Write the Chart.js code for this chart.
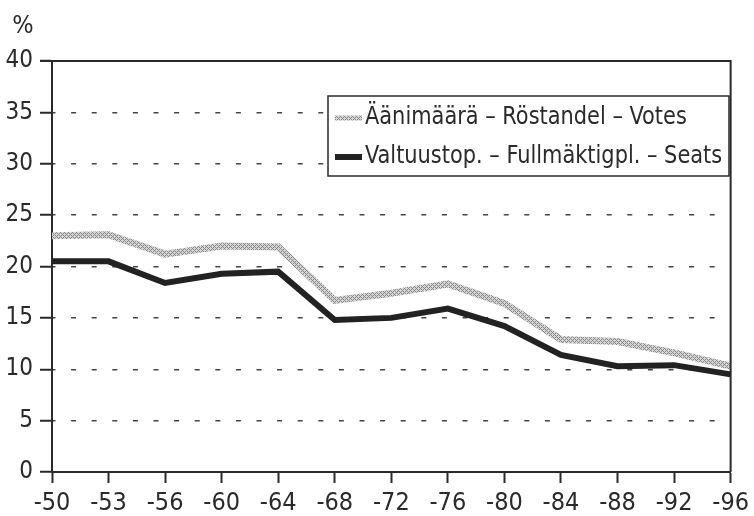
<!DOCTYPE html>
<html>
<head>
<meta charset="utf-8">
<script src="https://cdn.jsdelivr.net/npm/chart.js@4"></script>
<style>
html,body{margin:0;padding:0;background:#fff;}
#wrap{width:754px;height:516px;position:relative;}
</style>
</head>
<body>
<div id="wrap"><canvas id="c" width="754" height="516"></canvas></div>
<script>
const categories = ['-50','-53','-56','-60','-64','-68','-72','-76','-80','-84','-88','-92','-96'];
const votes = [23.0, 23.1, 21.2, 22.0, 21.9, 16.7, 17.4, 18.3, 16.4, 12.9, 12.7, 11.6, 10.3];
const seats = [20.5, 20.5, 18.4, 19.3, 19.5, 14.8, 15.0, 15.9, 14.2, 11.4, 10.3, 10.4, 9.5];
const yTicks = [0, 5, 10, 15, 20, 25, 30, 35, 40];
const seriesLabels = ['Äänimäärä – Röstandel – Votes', 'Valtuustop. – Fullmäktigpl. – Seats'];
const unitLabel = '%';

const FONT = '"Liberation Sans Narrow", "DejaVu Sans Condensed", "Liberation Sans", sans-serif';
const INK = '#2a2a2a';

// textured pattern for the votes line
function makePattern(){
  const p = document.createElement('canvas');
  p.width = 4; p.height = 4;
  const g = p.getContext('2d');
  g.fillStyle = '#d4d4d4'; g.fillRect(0,0,4,4);
  g.fillStyle = '#8a8a8a';
  g.fillRect(0,0,1,1); g.fillRect(1,1,1,1); g.fillRect(2,2,1,1); g.fillRect(3,3,1,1);
  g.fillRect(3,1,1,1); g.fillRect(1,3,1,1);
  return document.getElementById('c').getContext('2d').createPattern(p,'repeat');
}
const votesPattern = makePattern();

const framePlugin = {
  id: 'frame',
  afterDraw(chart){
    const ctx = chart.ctx, a = chart.chartArea;
    ctx.save();
    // solid frame
    ctx.strokeStyle = INK; ctx.lineWidth = 2;
    ctx.beginPath();
    ctx.moveTo(a.left - 12, a.top); ctx.lineTo(a.right, a.top); ctx.lineTo(a.right, a.bottom);
    ctx.stroke();
    // % label
    ctx.fillStyle = INK;
    ctx.font = '25px ' + FONT;
    ctx.textAlign = 'center'; ctx.textBaseline = 'alphabetic';
    ctx.fillText(unitLabel, 23, 33);
    // legend box
    const bx = 328, by = 96, bw = 401, bh = 80;
    ctx.fillStyle = '#fff';
    ctx.fillRect(bx, by, bw, bh);
    ctx.strokeStyle = INK; ctx.lineWidth = 1.5;
    ctx.strokeRect(bx, by, bw, bh);
    const rows = [
      {y: 117, style: votesPattern, w: 5},
      {y: 156, style: '#222', w: 6}
    ];
    rows.forEach((r, i) => {
      ctx.strokeStyle = r.style; ctx.lineWidth = r.w;
      ctx.beginPath(); ctx.moveTo(335, r.y + 1); ctx.lineTo(362, r.y + 1); ctx.stroke();
      ctx.save();
      ctx.translate(365, r.y);
      ctx.scale(0.93, 1);
      ctx.font = '25px ' + FONT;
      ctx.textAlign = 'left'; ctx.textBaseline = 'middle';
      ctx.fillStyle = INK;
      ctx.fillText(seriesLabels[i], 0, 0);
      ctx.restore();
    });
    ctx.restore();
  }
};

new Chart(document.getElementById('c'), {
  type: 'line',
  data: {
    labels: categories,
    datasets: [
      {label: seriesLabels[0], data: votes, borderColor: votesPattern, borderWidth: 7, pointRadius: 0, tension: 0, fill: false, borderJoinStyle: 'miter'},
      {label: seriesLabels[1], data: seats, borderColor: '#222', borderWidth: 6, pointRadius: 0, tension: 0, fill: false, borderJoinStyle: 'miter'}
    ]
  },
  options: {
    responsive: false,
    animation: false,
    layout: {padding: {top: 61, right: 18, left: 0, bottom: 0}},
    plugins: {legend: {display: false}, tooltip: {enabled: false}},
    scales: {
      x: {
        type: 'category',
        offset: false,
        afterFit(s){ s.height = 44; },
        grid: {display: true, drawOnChartArea: false, drawTicks: true, tickLength: 11, tickColor: INK, tickWidth: 2, offset: false},
        border: {display: true, color: INK, width: 2},
        ticks: {color: INK, font: {family: FONT, size: 25}, padding: 5, maxRotation: 0, autoSkip: false}
      },
      y: {
        min: 0, max: 40,
        afterFit(s){ s.width = 52; },
        afterBuildTicks(s){ s.ticks = yTicks.map(v => ({value: v})); },
        grid: {display: true, drawOnChartArea: true, color: (c) => c.tick && c.tick.value === 40 ? 'rgba(0,0,0,0)' : '#444', lineWidth: 1.5, drawTicks: true, tickLength: 12, tickColor: INK, tickWidth: 2},
        border: {display: true, color: INK, width: 2, dash: [5, 15.6], dashOffset: 2.5},
        ticks: {color: INK, font: {family: FONT, size: 24}, padding: 7}
      }
    }
  },
  plugins: [framePlugin]
});
</script>
</body>
</html>
